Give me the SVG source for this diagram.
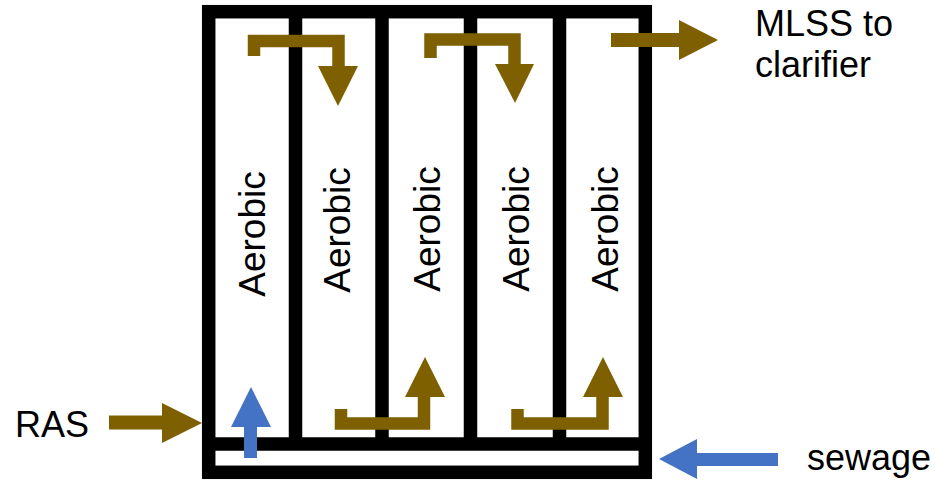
<svg xmlns="http://www.w3.org/2000/svg" width="935" height="480" viewBox="0 0 935 480">
<style>
.frame{fill:none;stroke:#000;stroke-width:13.5}
.wall{stroke:#000;stroke-width:13.5}
.bflow{fill:none;stroke:#7F6000;stroke-width:12.5;stroke-linejoin:miter;stroke-linecap:butt}
.bhead{fill:#7F6000}
.blue{fill:#4472C4}
.bluel{stroke:#4472C4;stroke-width:13}
.lbl{font-family:"Liberation Sans",Arial,sans-serif;font-size:36px;fill:#000}
.zone{font-family:"Liberation Sans",Arial,sans-serif;font-size:37px;fill:#000;text-anchor:middle}
</style>
<rect width="935" height="480" fill="#fff"/>
<g id="tank">
<rect class="frame" x="208.7" y="11.7" width="436.6" height="460.6"/>
<line class="wall" x1="202" y1="444" x2="652" y2="444"/>
<line class="wall" x1="295.5" y1="5" x2="295.5" y2="444"/>
<line class="wall" x1="382" y1="5" x2="382" y2="444"/>
<line class="wall" x1="470.5" y1="5" x2="470.5" y2="444"/>
<line class="wall" x1="559.5" y1="5" x2="559.5" y2="444"/>
</g>
<g id="zone1"><text class="zone" transform="translate(265,234) rotate(-90)">Aerobic</text></g>
<g id="zone2"><text class="zone" transform="translate(350,230) rotate(-90)">Aerobic</text></g>
<g id="zone3"><text class="zone" transform="translate(440,229) rotate(-90)">Aerobic</text></g>
<g id="zone4"><text class="zone" transform="translate(529,229) rotate(-90)">Aerobic</text></g>
<g id="zone5"><text class="zone" transform="translate(618,229) rotate(-90)">Aerobic</text></g>
<g id="label-mlss"><text class="lbl" x="755" y="36">MLSS to</text><text class="lbl" x="755" y="77">clarifier</text></g>
<g id="label-ras"><text class="lbl" x="15" y="437">RAS</text></g>
<g id="label-sewage"><text class="lbl" x="807" y="470">sewage</text></g>
<g id="connectors">
<path class="bflow" d="M254,56 V41 H338.5 V67"/>
<polygon class="bhead" points="318,66 358,66 338,106"/>
<path class="bflow" d="M430.5,58 V39.5 H514.5 V65"/>
<polygon class="bhead" points="495,64 534,64 515,103"/>
<rect class="bhead" x="611" y="33" width="69" height="14"/>
<polygon class="bhead" points="679,20 679,60 718,40"/>
<path class="bflow" d="M341,409 V423.5 H424 V396"/>
<polygon class="bhead" points="405,397 445,397 425,357"/>
<path class="bflow" d="M517.5,409 V423.5 H602.5 V396"/>
<polygon class="bhead" points="583,397 623,397 603,357"/>
<rect class="bhead" x="109" y="415.5" width="54" height="14"/>
<polygon class="bhead" points="162,403 162,443 202,423"/>
<rect class="blue" x="244" y="426" width="13" height="32"/>
<polygon class="blue" points="231,427 271,427 251,387"/>
<rect class="blue" x="696" y="453" width="82" height="13"/>
<polygon class="blue" points="697,439 697,479 659,459"/>
</g>
</svg>
